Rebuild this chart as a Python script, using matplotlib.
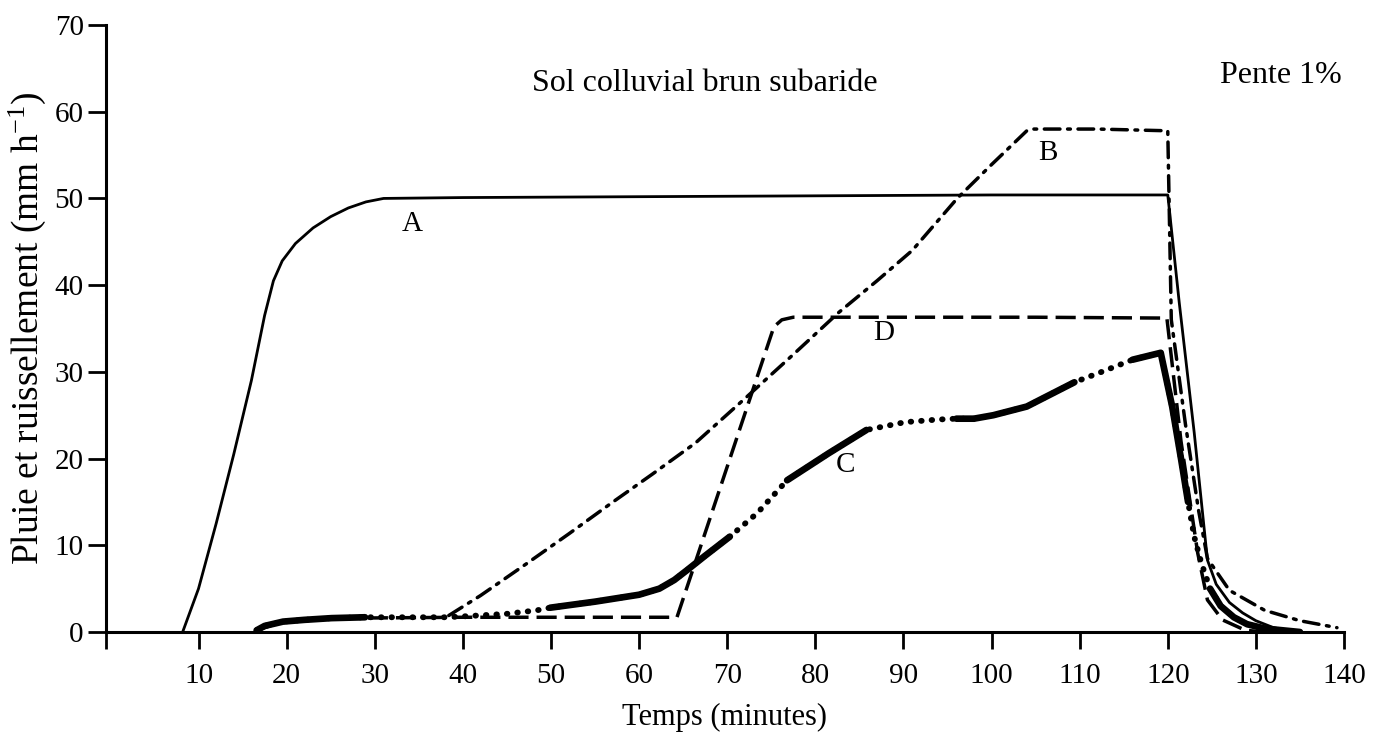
import numpy as np
import matplotlib
matplotlib.use("Agg")
import matplotlib.pyplot as plt


# Curve A: rainfall (solid)
a_x = [8.2, 10, 12, 14, 16, 17.5, 18.5, 19.5, 21, 23, 25, 27, 29, 31, 40, 60, 80, 100, 120,
       121.3, 123, 124.5, 125.5, 127, 128.5, 130, 132, 134, 135]
a_y = [0, 5, 12.5, 20.5, 29, 36.5, 40.5, 42.8, 44.8, 46.6, 47.9, 48.9, 49.6, 50, 50.1, 50.2,
       50.3, 50.4, 50.4, 38, 23, 8.3, 5.5, 3.4, 2.2, 1.3, 0.5, 0.1, 0]

# Curve B (dash-dot)
b_x = [38.4, 42, 47.4, 52, 56.9, 61.5, 66.4, 72.2, 77.5, 82.6, 87, 91, 96.1, 100, 104,
       104.8, 112, 120, 120.4, 122, 123.5, 124.5, 125.5, 127, 131, 135, 139.2]
b_y = [1.9, 4.2, 8.0, 11.3, 14.9, 18.2, 21.8, 27.1, 32.0, 36.8, 40.5, 44.0, 50.0, 53.9, 57.8,
       58.0, 58.0, 57.8, 36, 24, 14, 8.5, 7.0, 4.8, 2.5, 1.3, 0.5]

# Curve C (alternating thick / dotted)
c_x = [16.6, 17.5, 19.6, 22, 25.1, 28.9, 33, 38, 40, 45, 48.4, 49.9, 55, 60, 62.3, 64, 65.4,
       67.5, 70.3, 73.4, 76.8, 81.5, 85.8, 90.2, 93.9, 96, 98, 100.2, 104, 109.4, 112.5, 116,
       119.2, 120.5, 121.5, 122.3, 123, 123.8, 124.8, 126, 127.5, 129, 131, 133, 135]
c_y = [0.2, 0.7, 1.2, 1.4, 1.6, 1.7, 1.7, 1.7, 1.8, 2.1, 2.5, 2.8, 3.5, 4.3, 5.0, 6.0, 7.1,
       8.8, 11, 13.7, 17.5, 20.6, 23.3, 24.2, 24.5, 24.6, 24.6, 25, 26, 28.8, 30, 31.4,
       32.2, 26, 20, 15, 11, 8, 5, 3, 1.7, 0.9, 0.4, 0.2, 0]
c_thick = [(16.6, 28.9), (49.9, 70.3), (76.8, 85.8), (96, 109.4), (116, 122.3), (124.8, 135)]

# Curve D (dashed)
d_x = [16.6, 19, 22, 27, 40, 55, 64.3, 75.3, 76.2, 77.5, 90, 105, 119.9, 121.5, 123.4,
       124.5, 126.2, 128.8, 131]
d_y = [0.2, 1.0, 1.4, 1.6, 1.7, 1.7, 1.7, 35.2, 36.0, 36.3, 36.3, 36.3, 36.2, 22, 9.1,
       3.7, 1.4, 0.2, 0]

x_ticks = list(range(10, 150, 10))
y_ticks = list(range(0, 80, 10))

curve_labels = ["A", "B", "C", "D"]
curve_label_pos = [(34.2, 47.1), (106.4, 55.2), (83.4, 19.3), (87.8, 34.5)]


def plot_chart(figname):
    """ Draw the runoff curves and save the figure """

    plt.rcParams['font.family'] = ['Liberation Serif', 'DejaVu Serif']
    plt.rcParams['mathtext.fontset'] = 'custom'
    plt.rcParams['mathtext.rm'] = 'Liberation Serif'
    plt.rcParams['mathtext.it'] = 'Liberation Serif:italic'

    fig = plt.figure(figsize=(13.82, 7.37), dpi=100)
    ax = fig.add_axes([106 / 1382, 105 / 737, 1238 / 1382, 607 / 737])

    # A: solid thin
    ax.plot(a_x, a_y, color='black', lw=2, solid_joinstyle='round')

    # B: dash-dot
    ax.plot(b_x, b_y, color='black', lw=2.5, linestyle=(0, (4.5, 2.2, 0.8, 2.2)),
            dash_capstyle='round')

    # D: dashed
    ax.plot(d_x, d_y, color='black', lw=2.5, linestyle=(0, (5.8, 2.3)))

    # C: dotted along full path, thick pieces on top
    cx = np.array(c_x)
    cy = np.array(c_y)
    ax.plot(cx, cy, color='black', lw=4.2, linestyle=(0, (0.1, 1.7)), dash_capstyle='round')
    for x0, x1 in c_thick:
        mask = (cx >= x0) & (cx <= x1)
        ax.plot(cx[mask], cy[mask], color='black', lw=4.8, solid_capstyle='round',
                solid_joinstyle='round')

    # Curve letters
    for lab, (lx, ly) in zip(curve_labels, curve_label_pos):
        ax.text(lx, ly, lab, fontsize=21, ha='center', va='center')

    ax.text(67.5, 63.2, "Sol colluvial brun subaride", fontsize=23, ha='center', va='center')
    ax.text(132.8, 64.2, "Pente 1%", fontsize=23, ha='center', va='center', clip_on=False)

    # Axes
    ax.set_xlim(-0.5, 140)
    ax.set_ylim(0, 70)
    ax.set_xticks([-0.5] + x_ticks)
    ax.set_xticklabels([''] + [str(t) for t in x_ticks])
    ax.set_yticks(y_ticks)
    ax.spines['top'].set_visible(False)
    ax.spines['right'].set_visible(False)
    for side in ['left', 'bottom']:
        ax.spines[side].set_linewidth(2.2)
    ax.tick_params(axis='both', direction='out', width=2, labelsize=21, color='black')
    ax.tick_params(axis='x', length=12, pad=10)
    ax.tick_params(axis='y', length=13, pad=3)

    ax.set_xlabel("Temps (minutes)", fontsize=22, labelpad=10)
    ax.set_ylabel("Pluie et ruissellement (mm h$^{-1}$)", fontsize=27, labelpad=5)

    fig.savefig(figname, dpi=100)


def main():
    plot_chart("out.png")


if __name__ == '__main__':
    main()
